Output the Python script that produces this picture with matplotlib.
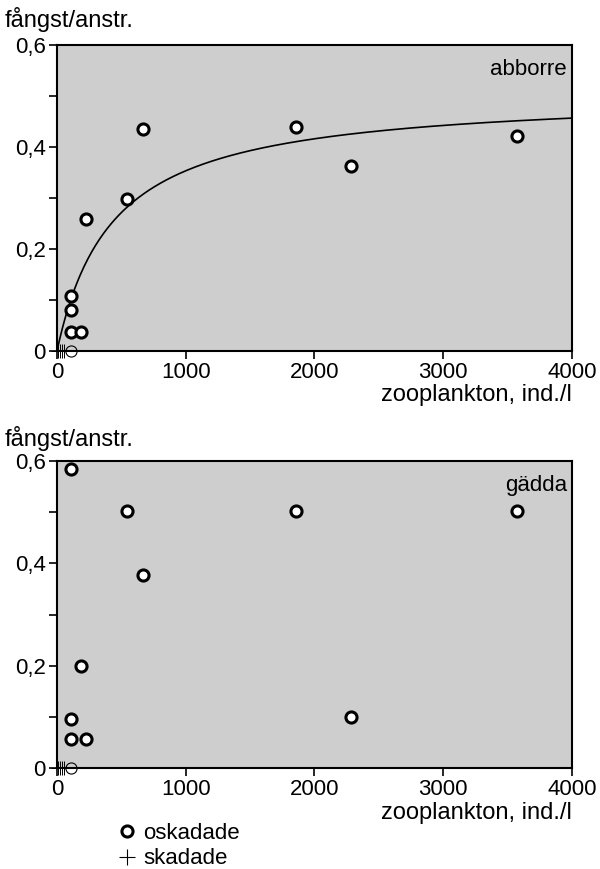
import numpy as np
import matplotlib.pyplot as plt
from matplotlib.lines import Line2D

plt.rcParams['font.family'] = ['Liberation Sans', 'DejaVu Sans']

# abborre (perch), unharmed catches
perch_x = [110, 110, 110, 190, 225, 540, 670, 1860, 2280, 3570]
perch_y = [0.108, 0.080, 0.037, 0.037, 0.258, 0.298, 0.435, 0.439, 0.363, 0.422]

# gädda (pike), unharmed catches
pike_x = [110, 540, 670, 1860, 3570, 190, 110, 110, 225, 2280]
pike_y = [0.584, 0.502, 0.377, 0.502, 0.502, 0.199, 0.096, 0.057, 0.057, 0.100]

# zero-catch sites
zero_x = [110]
damaged_x = [10, 25, 40, 55]

# saturating fit drawn in the perch panel: y = a*x/(b+x)
fit_a = 0.506
fit_b = 432

y_ticks = [0, 0.2, 0.4, 0.6]
y_labels = ['0', '0,2', '0,4', '0,6']
x_ticks = [0, 1000, 2000, 3000, 4000]

FS = 16
FS_LABEL = 17
BG = '#cecece'


def style_axes(ax, name):
    ax.set_facecolor(BG)
    ax.set_xlim(0, 4000)
    ax.set_ylim(0, 0.6)
    ax.set_xticks(x_ticks)
    ax.set_xticklabels([str(t) for t in x_ticks], fontsize=FS)
    ax.set_yticks(y_ticks)
    ax.set_yticklabels(y_labels, fontsize=FS)
    ax.set_yticks([0.1, 0.3, 0.5], minor=True)
    ax.tick_params(which='both', direction='out', length=6, width=1.2, pad=2)
    for s in ax.spines.values():
        s.set_linewidth(1.5)
    ax.text(0.99, 0.92, name, transform=ax.transAxes, ha='right', va='center',
            fontsize=FS)
    ax.text(1.0, -0.145, 'zooplankton, ind./l', transform=ax.transAxes,
            ha='right', va='center', fontsize=FS_LABEL)


def draw_points(ax, xs, ys):
    ax.plot(xs, ys, 'o', ms=8, mfc='white', mec='black', mew=2.2,
            linestyle='none', zorder=4)
    ax.plot(zero_x, [0] * len(zero_x), 'o', ms=8, mfc='none', mec='black',
            mew=0.8, clip_on=False, zorder=4)
    ax.plot(damaged_x, [0] * len(damaged_x), '+', ms=10, mec='black',
            mew=0.7, clip_on=False, zorder=4)


fig = plt.figure(figsize=(6, 8.69), dpi=100)
ax1 = fig.add_axes([0.095, 0.5961, 0.8583, 0.3521])
ax2 = fig.add_axes([0.095, 0.1162, 0.8583, 0.3533])

style_axes(ax1, 'abborre')
xf = np.linspace(0, 4000, 400)
ax1.plot(xf, fit_a * xf / (fit_b + xf), color='black', lw=1.2, zorder=3)
draw_points(ax1, perch_x, perch_y)

style_axes(ax2, 'gädda')
draw_points(ax2, pike_x, pike_y)

fig.text(0.008, 0.978, 'fångst/anstr.', fontsize=FS_LABEL, ha='left', va='center')
fig.text(0.008, 0.495, 'fångst/anstr.', fontsize=FS_LABEL, ha='left', va='center')

handles = [
    Line2D([], [], marker='o', ms=8, mfc='white', mec='black', mew=2.2,
           linestyle='none'),
    Line2D([], [], marker='+', ms=12, mec='black', mew=0.8, linestyle='none'),
]
fig.legend(handles, ['oskadade', 'skadade'], loc='upper left',
           bbox_to_anchor=(0.19, 0.053), frameon=False, fontsize=FS,
           handletextpad=0.1, handlelength=1.2, labelspacing=0.2,
           borderaxespad=0, borderpad=0)

fig.savefig('out.png', dpi=100)
